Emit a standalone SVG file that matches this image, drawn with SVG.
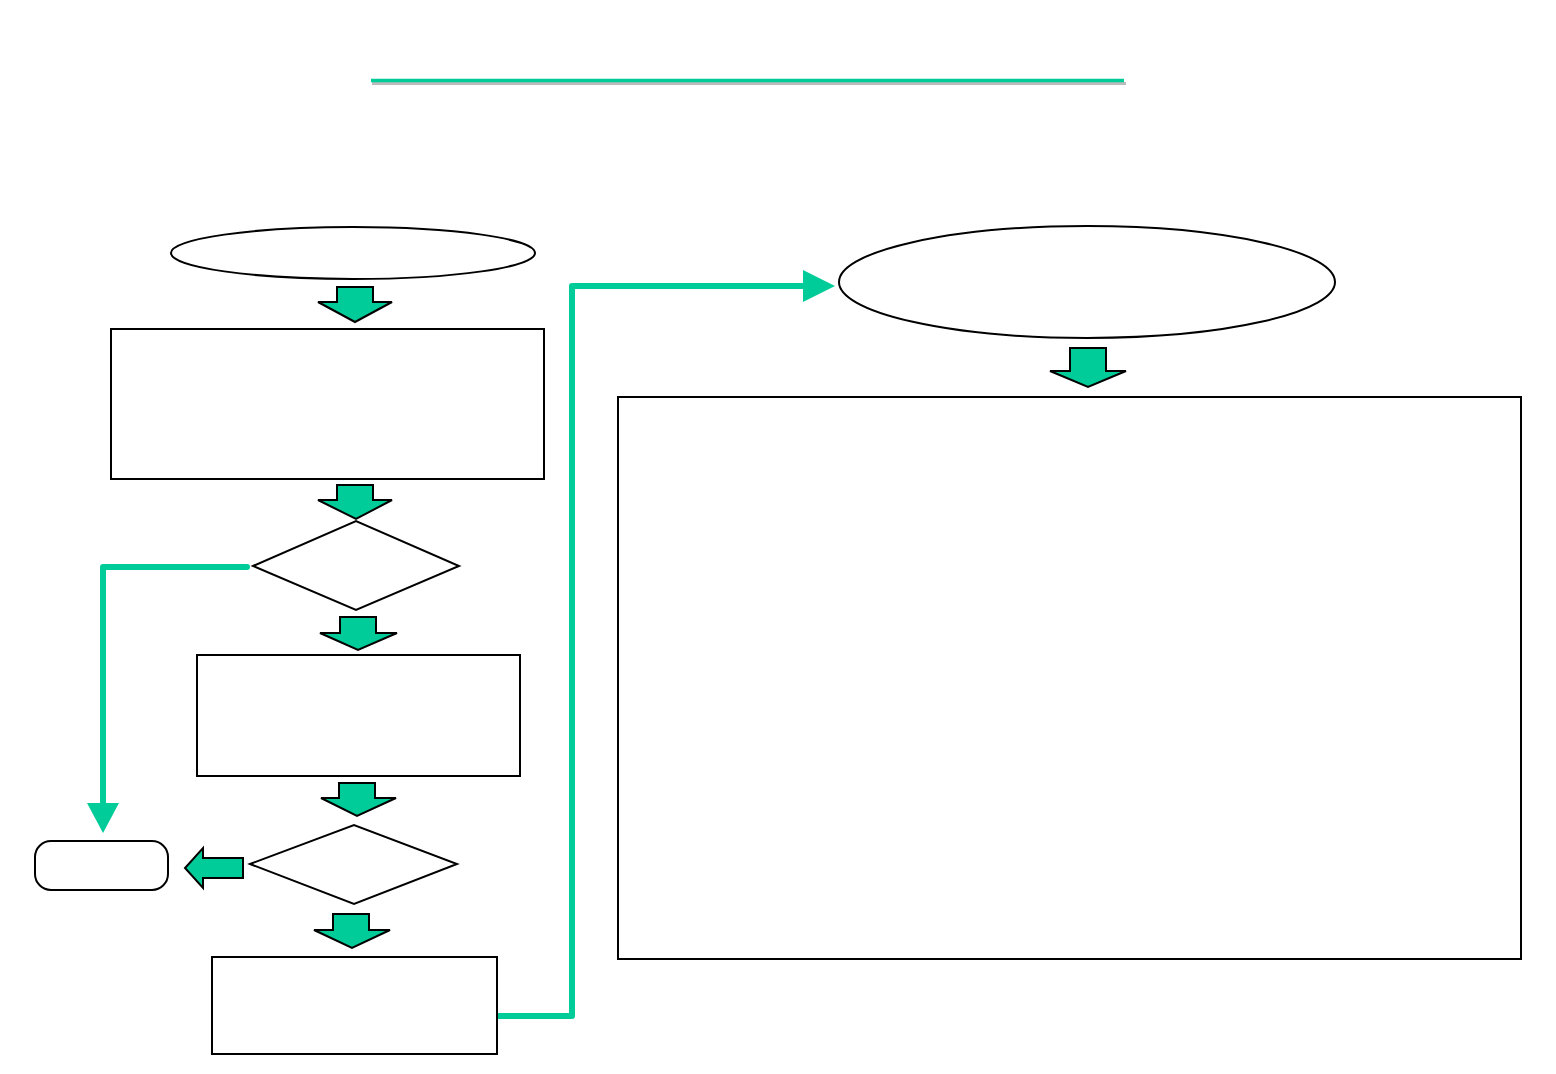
<svg xmlns="http://www.w3.org/2000/svg" width="1556" height="1074" viewBox="0 0 1556 1074">
<style>
.box{fill:#fff;stroke:#000;stroke-width:2}
.barrow{fill:#00CC99;stroke:#000;stroke-width:2;stroke-linejoin:miter}
.conn{fill:none;stroke:#00CC99;stroke-width:6;stroke-linecap:round;stroke-linejoin:round}
.head{fill:#00CC99}
</style>
<rect width="1556" height="1074" fill="#fff"/>
<g id="title-rule">
<line x1="372" y1="83.5" x2="1126" y2="83.5" stroke="#bbb" stroke-width="3"/>
<line x1="371" y1="80.5" x2="1124" y2="80.5" stroke="#00CC99" stroke-width="3.5"/>
</g>
<g id="connectors">
<polyline class="conn" points="247,567 103,567 103,805"/>
<polygon class="head" points="87,803 119,803 103,833"/>
<polyline class="conn" points="497,1016 572,1016 572,286 806,286"/>
<polygon class="head" points="803,270 803,302 835,286"/>
</g>
<g id="start"><ellipse class="box" cx="353" cy="253" rx="182" ry="26"/></g>
<g id="arrow1"><polygon class="barrow" points="337,287 373,287 373,302 392,302 355,322 318,302 337,302"/></g>
<g id="step1"><rect class="box" x="111" y="329" width="433" height="150"/></g>
<g id="arrow2"><polygon class="barrow" points="337,485 373,485 373,500 392,500 356,519 318,500 337,500"/></g>
<g id="decision1"><polygon class="box" points="253,566 356,521 459,566 356,610"/></g>
<g id="arrow3"><polygon class="barrow" points="340,617 376,617 376,633 397,633 358,650 320,633 340,633"/></g>
<g id="step2"><rect class="box" x="197" y="655" width="323" height="121" stroke-width="2.5"/></g>
<g id="arrow4"><polygon class="barrow" points="339,783 375,783 375,798 396,798 357,816 321,798 339,798"/></g>
<g id="decision2"><polygon class="box" points="250,864 354,825 457,864 354,904"/></g>
<g id="arrow-left"><polygon class="barrow" points="243,858 203,858 203,848 185,868 203,888 203,878 243,878"/></g>
<g id="end"><rect class="box" x="35" y="841" width="133" height="49" rx="16" ry="16" stroke-width="2.5"/></g>
<g id="arrow5"><polygon class="barrow" points="333,914 369,914 369,930 390,930 352,948 314,930 333,930"/></g>
<g id="step3"><rect class="box" x="212" y="957" width="285" height="97"/></g>
<g id="start2"><ellipse class="box" cx="1087" cy="282" rx="248" ry="56"/></g>
<g id="arrow6"><polygon class="barrow" points="1070,348 1106,348 1106,371 1126,371 1088,387 1050,371 1070,371"/></g>
<g id="detail"><rect class="box" x="618" y="397" width="903" height="562"/></g>
</svg>
